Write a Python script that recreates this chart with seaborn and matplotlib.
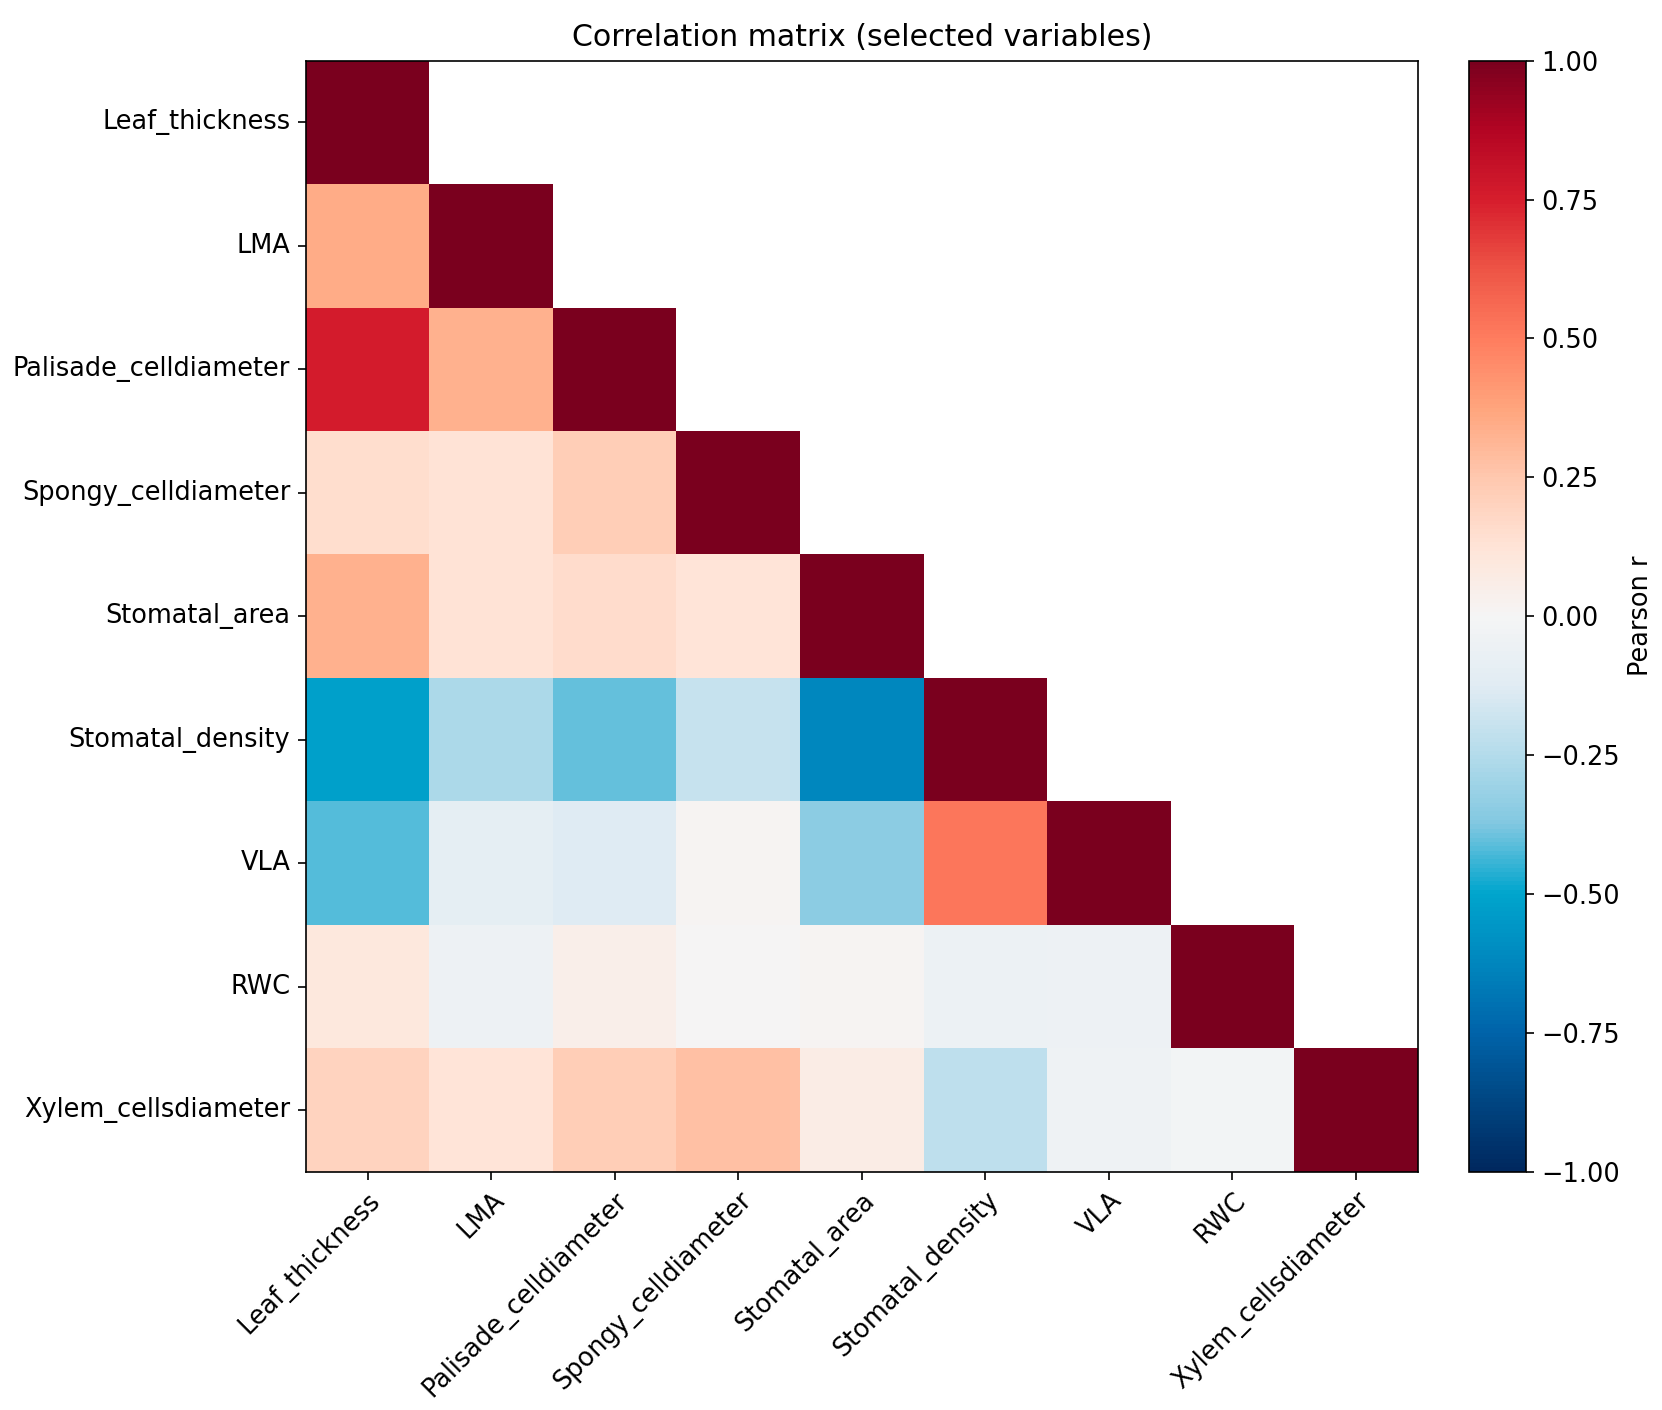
import numpy as np
import pandas as pd
import matplotlib
matplotlib.use("Agg")
import matplotlib.pyplot as plt
from matplotlib.colors import LinearSegmentedColormap
import seaborn as sns

variables = ["Leaf_thickness", "LMA", "Palisade_celldiameter", "Spongy_celldiameter",
             "Stomatal_area", "Stomatal_density", "VLA", "RWC", "Xylem_cellsdiameter"]

# lower-triangle correlations, row by row (values below the diagonal)
row_LMA = [0.35]
row_Palisade = [0.76, 0.33]
row_Spongy = [0.15, 0.13, 0.22]
row_Stomatal_area = [0.33, 0.13, 0.16, 0.12]
row_Stomatal_density = [-0.52, -0.27, -0.40, -0.20, -0.62]
row_VLA = [-0.42, -0.10, -0.13, 0.01, -0.35, 0.52]
row_RWC = [0.10, -0.05, 0.05, 0.00, 0.01, -0.06, -0.05]
row_Xylem = [0.20, 0.12, 0.22, 0.28, 0.07, -0.22, -0.04, -0.02]

rows = [[], row_LMA, row_Palisade, row_Spongy, row_Stomatal_area,
        row_Stomatal_density, row_VLA, row_RWC, row_Xylem]

n = len(variables)
M = np.eye(n)
for i, r in enumerate(rows):
    for j, v in enumerate(r):
        M[i, j] = v
        M[j, i] = v
corr = pd.DataFrame(M, index=variables, columns=variables)
mask = np.triu(np.ones_like(M, dtype=bool), k=1)

# diverging blue-white-red colormap (vivid RdBu_r look)
cmap_colors = [(0, 40, 95), (0, 70, 130), (0, 100, 170), (0, 135, 190), (0, 165, 205),
               (130, 200, 225), (180, 220, 235), (225, 236, 243), (245, 245, 245),
               (255, 228, 215), (255, 200, 175), (255, 165, 125), (255, 125, 95),
               (238, 85, 70), (215, 30, 45), (180, 5, 35), (122, 0, 30)]
cmap = LinearSegmentedColormap.from_list(
    "vivid_RdBu_r", [tuple(c / 255 for c in col) for col in cmap_colors], N=256)

plt.rcParams['font.family'] = ['DejaVu Sans']
fig = plt.figure(figsize=(11.08, 9.4), dpi=150)
ax = fig.add_axes([0.184, 0.169, 0.669, 0.788])
cax = fig.add_axes([0.884, 0.169, 0.034, 0.788])

sns.heatmap(corr, mask=mask, cmap=cmap, vmin=-1, vmax=1, ax=ax, cbar_ax=cax,
            square=False, cbar_kws={"label": "Pearson r"})

for s in ax.spines.values():
    s.set_visible(True)
    s.set_linewidth(0.8)
    s.set_color("black")

cb = ax.collections[0].colorbar
cb.outline.set_visible(True)
cb.outline.set_linewidth(0.8)
cb.outline.set_edgecolor("black")

ax.tick_params(axis="both", which="both", length=4, width=0.8, labelsize=12.3)
ax.set_xticklabels(variables, rotation=45, ha="right", rotation_mode="anchor")
ax.set_yticklabels(variables, rotation=0)
ax.set_xlabel("")
ax.set_ylabel("")
ax.set_title("Correlation matrix (selected variables)", fontsize=14.4, pad=7)

cb.set_ticks([-1, -0.75, -0.5, -0.25, 0, 0.25, 0.5, 0.75, 1])
cb.set_ticklabels(["\u22121.00", "\u22120.75", "\u22120.50", "\u22120.25", "0.00",
                   "0.25", "0.50", "0.75", "1.00"])
cax.tick_params(labelsize=12.3, length=4, width=0.8)
cb.set_label("Pearson r", fontsize=12.3)

fig.savefig("out.png", dpi=150)
